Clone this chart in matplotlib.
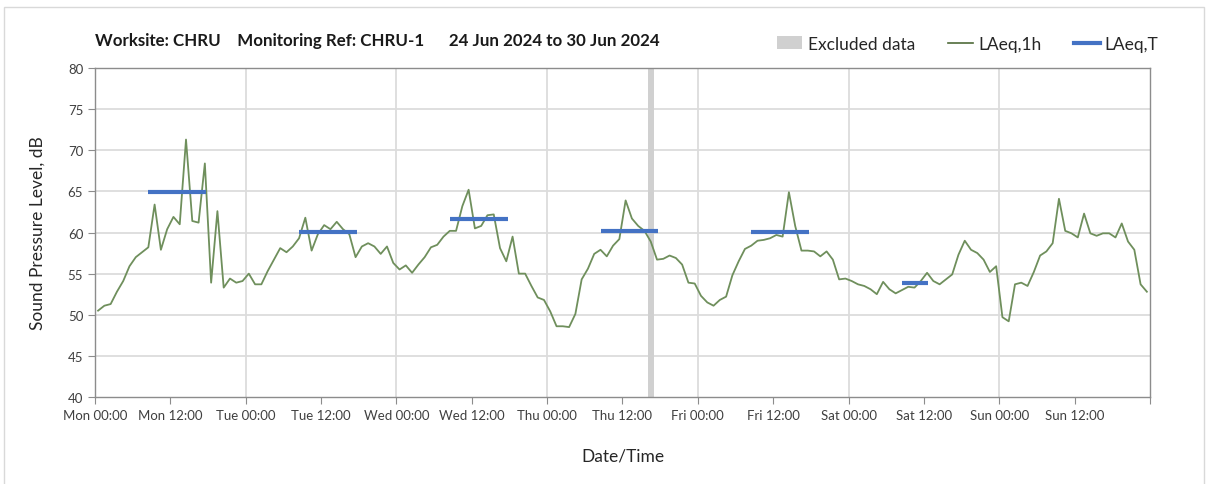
import numpy as np
import matplotlib.pyplot as plt
from matplotlib.patches import Rectangle, Patch
from matplotlib.lines import Line2D

plt.rcParams['font.family'] = ['Lato', 'DejaVu Sans']

# hourly LAeq,1h values, Mon 00:00 .. Sun 23:00
laeq_1h = [
    50.5, 51.1, 51.3, 52.8, 54.1, 55.9, 57.0, 57.6, 58.2, 63.4, 57.9, 60.4,
    61.9, 61.0, 71.3, 61.4, 61.2, 68.4, 53.9, 62.6, 53.3, 54.4, 53.9, 54.1,
    55.0, 53.7, 53.7, 55.3, 56.7, 58.1, 57.6, 58.3, 59.3, 61.8, 57.8, 59.8,
    60.9, 60.4, 61.3, 60.4, 59.8, 57.0, 58.3, 58.7, 58.3, 57.4, 58.3, 56.3,
    55.5, 56.0, 55.1, 56.1, 57.0, 58.2, 58.5, 59.5, 60.2, 60.2, 63.2, 65.2,
    60.5, 60.8, 62.1, 62.2, 58.1, 56.5, 59.5, 55.0, 55.0, 53.5, 52.1, 51.8,
    50.4, 48.6, 48.6, 48.5, 50.1, 54.3, 55.6, 57.4, 57.9, 57.1, 58.4, 59.2,
    63.9, 61.7, 60.8, 60.2, 58.9, 56.7, 56.8, 57.2, 56.9, 56.1, 53.9, 53.8,
    52.3, 51.5, 51.1, 51.8, 52.2, 54.8, 56.5, 58.0, 58.4, 59.0, 59.1, 59.3,
    59.7, 59.5, 64.9, 60.8, 57.8, 57.8, 57.7, 57.1, 57.7, 56.7, 54.3, 54.4,
    54.1, 53.7, 53.5, 53.1, 52.5, 54.0, 53.1, 52.6, 53.0, 53.4, 53.3, 54.1,
    55.1, 54.1, 53.7, 54.3, 54.9, 57.3, 59.0, 57.9, 57.5, 56.7, 55.2, 55.9,
    49.7, 49.2, 53.7, 53.9, 53.5, 55.2, 57.2, 57.7, 58.7, 64.1, 60.2, 59.9,
    59.4, 62.3, 59.9, 59.6, 59.9, 59.9, 59.4, 61.1, 58.9, 57.9, 53.7, 52.8,
]
hours = np.arange(len(laeq_1h)) + 0.5

# LAeq,T working periods (hours from Mon 00:00)
lt_start = [8.5, 32.5, 56.5, 80.5, 104.5, 128.5]
lt_end = [17.7, 41.7, 65.7, 89.7, 113.7, 132.7]
lt_value = [64.9, 60.1, 61.6, 60.2, 60.1, 53.9]

# excluded period
excl_start, excl_end = 88.0, 89.0

days = ['Mon', 'Tue', 'Wed', 'Thu', 'Fri', 'Sat', 'Sun']
tick_labels = [f'{d} {t}' for d in days for t in ('00:00', '12:00')] + ['']

fig = plt.figure(figsize=(12.08, 4.85), dpi=100)
ax = fig.add_axes([0.0786, 0.1794, 0.8734, 0.6783])

# outer chart border
fig.patches.append(Rectangle((0.0033, -0.01), 0.9934, 0.9935, transform=fig.transFigure,
                             fill=False, edgecolor='#d9d9d9', linewidth=1.0))

ax.axvspan(excl_start, excl_end, color='#d0d0d0', linewidth=0, zorder=1)
ax.plot(hours, laeq_1h, color='#6f8f5c', linewidth=1.3, zorder=3)
for s, e, v in zip(lt_start, lt_end, lt_value):
    ax.plot([s, e], [v, v], color='#4472c4', linewidth=3, solid_capstyle='butt', zorder=4)

ax.set_xlim(0, 168)
ax.set_ylim(40, 80)
ax.set_xticks(np.arange(0, 169, 12))
ax.set_xticklabels(tick_labels)
ax.set_yticks(np.arange(40, 81, 5))

# gridlines: horizontal every 5 dB, vertical at midnight
for y in np.arange(45, 80, 5):
    ax.axhline(y, color='#dcdcdc', linewidth=1.3, zorder=0)
for x in np.arange(24, 168, 24):
    ax.axvline(x, color='#dcdcdc', linewidth=1.3, zorder=0)

for sp in ax.spines.values():
    sp.set_color('#8c8c8c')
    sp.set_linewidth(1.0)
ax.tick_params(axis='both', colors='#8c8c8c', labelcolor='#404040', labelsize=9.5,
               length=5, direction='out')

ax.set_xlabel('Date/Time', fontsize=12.5, color='#262626', labelpad=19)
ax.set_ylabel('Sound Pressure Level, dB', fontsize=12.5, color='#262626', labelpad=16)

fig.text(0.0786, 0.915, 'Worksite: CHRU    Monitoring Ref: CHRU-1      24 Jun 2024 to 30 Jun 2024',
         fontsize=12.2, fontweight='bold', color='#1a1a1a', va='center')

handles = [
    Patch(facecolor='#d0d0d0', edgecolor='none', label='Excluded data'),
    Line2D([], [], color='#4f6b3a', linewidth=1.2, label='LAeq,1h'),
    Line2D([], [], color='#4472c4', linewidth=3, label='LAeq,T'),
]
fig.legend(handles=handles, loc='center right', bbox_to_anchor=(0.972, 0.908), ncol=3,
           frameon=False, fontsize=12.5, handlelength=1.45, handletextpad=0.3,
           columnspacing=1.9, labelcolor='#262626')

fig.savefig('out.png', dpi=100)
